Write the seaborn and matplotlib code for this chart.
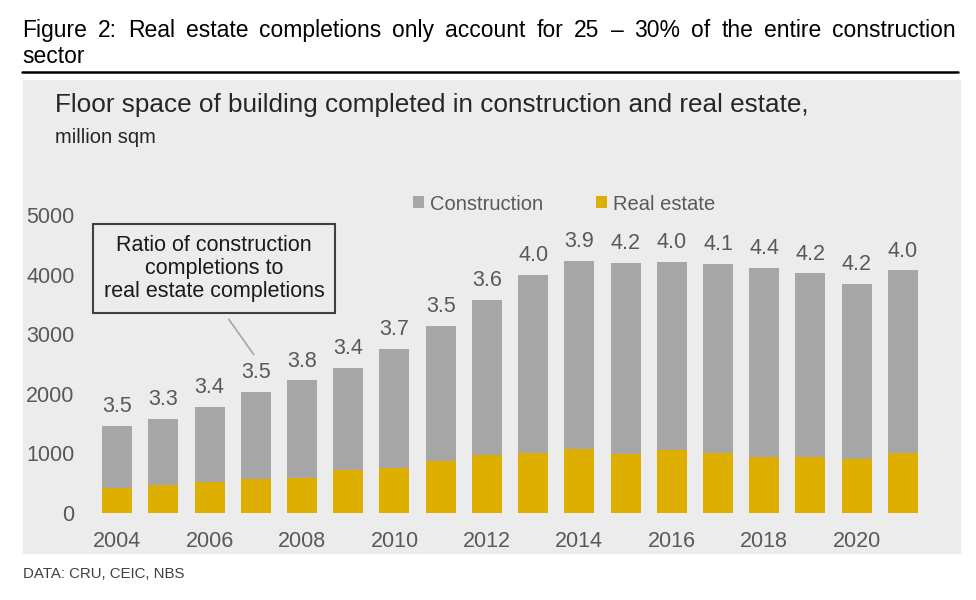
import matplotlib
matplotlib.use("Agg")
import matplotlib.pyplot as plt
from matplotlib.patches import Rectangle
import seaborn as sns
import pandas as pd

years = [str(y) for y in range(2004, 2022)]
construction = [1460, 1580, 1780, 2030, 2225, 2440, 2750, 3145, 3575,
                3995, 4230, 4195, 4210, 4180, 4105, 4020, 3840, 4070]
real_estate = [415, 470, 525, 575, 585, 715, 755, 870, 980,
               1000, 1075, 985, 1055, 1000, 935, 945, 900, 1000]
ratio_labels = ["3.5", "3.3", "3.4", "3.5", "3.8", "3.4", "3.7", "3.5", "3.6",
                "4.0", "3.9", "4.2", "4.0", "4.1", "4.4", "4.2", "4.2", "4.0"]
y_ticks = [0, 1000, 2000, 3000, 4000, 5000]

GREY = "#a6a6a6"
GOLD = "#deaf00"
TXT = "#595959"
PANEL = "#ececec"

sns.set_theme(style="white")
plt.rcParams["font.family"] = ["Liberation Sans", "DejaVu Sans"]

W, H = 976, 600
fig = plt.figure(figsize=(W / 100, H / 100), dpi=100)


def fx(x):
    return x / W


def fy(y):
    return 1 - y / H


def justified(text, x0, x1, y, **kw):
    # spread the words of one line across x0..x1 (pixels)
    words = [w for w in text.split(" ") if w]
    r = fig.canvas.get_renderer()
    arts = [fig.text(0, fy(y), w, va="baseline", **kw) for w in words]
    widths = [a.get_window_extent(r).width for a in arts]
    gap = (x1 - x0 - sum(widths)) / (len(words) - 1)
    x = x0
    for a, w in zip(arts, widths):
        a.set_x(fx(x))
        x += w + gap


# grey panel behind the chart
fig.patches.append(Rectangle((fx(23), fy(553)), fx(960) - fx(23), fy(80) - fy(553),
                             transform=fig.transFigure, color=PANEL, zorder=-5))
fig.add_artist(plt.Line2D([fx(22), fx(958)], [fy(72), fy(72)], color="black", lw=1.8, zorder=-5))

justified("Figure 2: Real estate completions only account for 25 \u2013 30% of the entire construction",
          22, 956, 37, fontsize=16.5, color="black")
fig.text(fx(22), fy(63), "sector", fontsize=16.5, color="black", va="baseline")
fig.text(fx(55), fy(112), "Floor space of building completed in construction and real estate,",
         fontsize=18.8, color="#262626", va="baseline")
fig.text(fx(55), fy(143), "million sqm", fontsize=14.5, color="#262626", va="baseline")
fig.text(fx(23), fy(578), "DATA: CRU, CEIC, NBS", fontsize=10.8, color="#404040", va="baseline")

ax = fig.add_axes([fx(94), fy(513), fx(926) - fx(94), fy(215) - fy(513)])
ax.patch.set_alpha(0)

df = pd.DataFrame({"year": years, "Construction": construction, "Real estate": real_estate})
sns.barplot(data=df, x="year", y="Construction", color=GREY, saturation=1, linewidth=0,
            width=0.65, errorbar=None, ax=ax, label="Construction")
sns.barplot(data=df, x="year", y="Real estate", color=GOLD, saturation=1, linewidth=0,
            width=0.65, errorbar=None, ax=ax, label="Real estate")

for i, (v, lab) in enumerate(zip(construction, ratio_labels)):
    ax.annotate(lab, (i, v), xytext=(0, 10), textcoords="offset points",
                ha="center", va="baseline", fontsize=15.5, color=TXT, clip_on=False)

ax.set_xlim(-0.5, len(years) - 0.5)
ax.set_ylim(0, 5000)
ax.set_yticks(y_ticks)
ax.set_yticklabels([str(t) for t in y_ticks])
ax.set_xticks(range(len(years)))
ax.set_xticklabels([y if int(y) % 2 == 0 else "" for y in years])
ax.tick_params(axis="both", length=0, labelsize=15.5, labelcolor=TXT)
ax.tick_params(axis="y", pad=14)
ax.tick_params(axis="x", pad=13)
ax.set_xlabel("")
ax.set_ylabel("")
sns.despine(ax=ax, left=True, bottom=True)

leg = ax.legend(loc="center", bbox_to_anchor=(fx(564), fy(204)), bbox_transform=fig.transFigure,
                ncol=2, frameon=False, fontsize=14.5, handlelength=0.55, handleheight=0.55,
                handletextpad=0.3, columnspacing=2.6)
for t in leg.get_texts():
    t.set_color(TXT)

# callout box
ax.text(2.1, 4100, "Ratio of construction\ncompletions to\nreal estate completions",
        ha="center", va="center", fontsize=15.5, color="#1a1a1a", linespacing=1.12,
        bbox=dict(boxstyle="square,pad=0.5", fc=PANEL, ec="#404040", lw=1.5), clip_on=False)
ax.annotate("", xy=(2.99, 2620), xytext=(2.38, 3290),
            arrowprops=dict(arrowstyle="-", color="#a6a6a6", lw=1.2))

fig.savefig("out.png", dpi=100)
